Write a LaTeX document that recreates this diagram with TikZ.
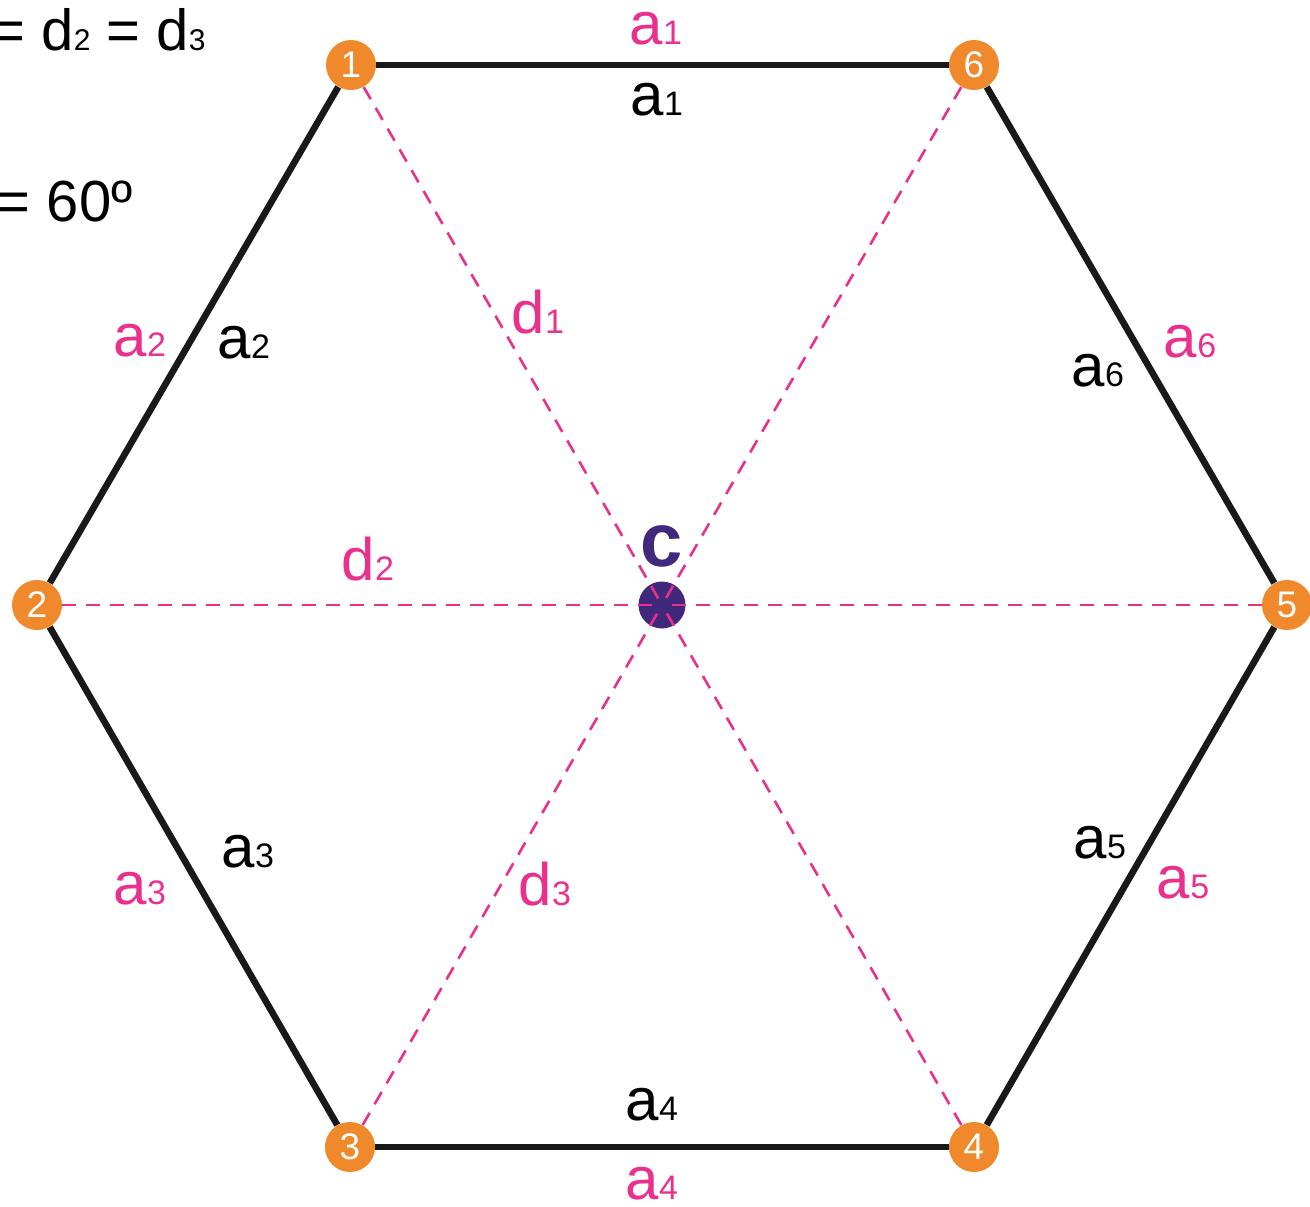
\documentclass[tikz,border=0pt]{standalone}
\usepackage{fontspec}
\setmainfont{Liberation Sans}
\definecolor{orng}{RGB}{240,136,44}
\definecolor{pnk}{RGB}{232,48,140}
\definecolor{purp}{RGB}{64,40,124}
\newcommand\sublab[2]{#1{\fontsize{17}{17}\selectfont #2}}
\newcommand\subtop[2]{#1{\fontsize{15}{15}\selectfont #2}}
\begin{document}
\begin{tikzpicture}[x=0.5pt,y=-0.5pt,
  vtx/.style={circle,fill=orng,text=white,minimum size=25pt,inner sep=0pt,font=\fontsize{18.5}{18.5}\selectfont},
  ctr/.style={circle,fill=purp,minimum size=23.5pt,inner sep=0pt},
  edge/.style={line width=3.3pt,black!90},
  diag/.style={pnk,line width=1.3pt,dash pattern=on 7pt off 5pt},
  lblk/.style={anchor=base,inner sep=0pt,font=\fontsize{30}{30}\selectfont},
  lpnk/.style={lblk,text=pnk}]
\useasboundingbox (0,0) rectangle (1310,1206);
\clip (0,0) rectangle (1310,1206);
% centre
\node[ctr] (c) at (662,605) {};
% vertices
\node[vtx] (v1) at (351,65) {1};
\node[vtx] (v2) at (37,605) {2};
\node[vtx] (v3) at (350,1147) {3};
\node[vtx] (v4) at (974,1147) {4};
\node[vtx] (v5) at (1287,605) {5};
\node[vtx] (v6) at (974,65) {6};
% diagonals
\foreach \v in {v1,v2,v3,v4,v5,v6}
  \draw[diag] (\v) -- (c.center);
% edges
\draw[edge] (v1) -- (v6);
\draw[edge] (v6) -- (v5);
\draw[edge] (v5) -- (v4);
\draw[edge] (v4) -- (v3);
\draw[edge] (v3) -- (v2);
\draw[edge] (v2) -- (v1);
% centre label
\node[anchor=base,inner sep=0pt,text=purp,font=\fontsize{38}{38}\selectfont\bfseries] (cl) at (662,566) {c};
% side labels
\node[lpnk] (pa1) at (656,44) {\sublab{a}{1}};
\node[lblk] (ba1) at (657,115) {\sublab{a}{1}};
\node[lpnk] (pa2) at (140,356) {\sublab{a}{2}};
\node[lblk] (ba2) at (244,358) {\sublab{a}{2}};
\node[lblk] (ba6) at (1098,386) {\sublab{a}{6}};
\node[lpnk] (pa6) at (1190,357) {\sublab{a}{6}};
\node[lblk] (ba3) at (248,867) {\sublab{a}{3}};
\node[lpnk] (pa3) at (140,904) {\sublab{a}{3}};
\node[lblk] (ba5) at (1100,858) {\sublab{a}{5}};
\node[lpnk] (pa5) at (1183,898) {\sublab{a}{5}};
\node[lblk] (ba4) at (652,1120) {\sublab{a}{4}};
\node[lpnk] (pa4) at (652,1199) {\sublab{a}{4}};
% diagonal labels
\node[lpnk] (d1) at (538,333) {\sublab{d}{1}};
\node[lpnk] (d2) at (368,580) {\sublab{d}{2}};
\node[lpnk] (d3) at (545,905) {\sublab{d}{3}};
% top-left text
\node[anchor=base east,inner sep=0pt,font=\fontsize{29}{29}\selectfont] (t1) at (206,50) {= \subtop{d}{2} = \subtop{d}{3}};
\node[anchor=base east,inner sep=0pt,font=\fontsize{29}{29}\selectfont] (t2) at (133,221) {= 60º};
\end{tikzpicture}
\end{document}
